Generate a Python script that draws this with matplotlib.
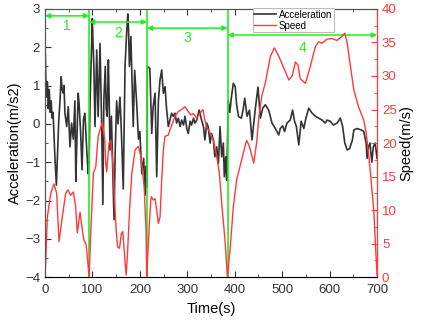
import matplotlib
matplotlib.use('Agg')
import matplotlib.pyplot as plt
from matplotlib.ticker import MultipleLocator

plt.rcParams['font.family'] = ['Liberation Sans', 'DejaVu Sans']

# speed curve (t in s, v in m/s)
speed_t = [0, 1.5, 5, 12, 19, 24.6, 29.5, 36.5, 43.6, 48.5, 54, 59.7, 64.6, 68, 73.8, 78.7, 82, 86, 88, 93,
           96, 102, 107, 112, 114, 121, 126, 128, 130, 135, 138.5, 143, 147, 150, 153, 157, 161, 164, 168, 171,
           173.5, 179, 183, 190, 197, 202, 206, 209, 213, 214.5,
           215.7, 220, 223, 224.5, 228, 232, 235.5, 239, 242.5, 246, 249.5, 253, 260, 263.5, 269, 274, 281, 288,
           295, 302, 307, 313, 320, 327, 333, 337, 341, 348, 355, 362, 367.5, 372.5, 379.5, 384.5,
           390, 397, 404, 411, 418, 425, 431, 440, 446, 451, 457, 464.5, 475, 483.5, 492.5, 501, 514, 521, 528,
           533.5, 538, 549, 559, 570, 577, 584, 594.5, 605, 615.5, 626, 632, 637, 644, 651, 661, 672, 677, 682,
           686, 693, 696.5, 700]
speed_v = [0, 2.5, 9, 12.5, 13.9, 12.5, 5.3, 9, 12.5, 13, 12.2, 12.7, 10.5, 6.6, 9.7, 7, 5.5, 5, 4, 0,
           6, 15.5, 16.5, 21, 21.5, 23.2, 20.4, 17, 15.7, 20, 20.4, 17, 11, 7, 4.5, 4.3, 6.5, 6.8, 3, 0.3,
           3, 11, 15.5, 19, 19.5, 18, 15.5, 13.5, 7, 0,
           2, 8, 11.5, 12, 11.5, 11.7, 10, 8, 9, 14.5, 19, 21, 21.2, 22, 23, 24, 24.7, 25,
           25.4, 24.7, 24.2, 24.4, 23.7, 24.5, 25, 23.4, 22.4, 21.5, 20.4, 18, 15.5, 11, 5.5, 0,
           4, 10.5, 14.5, 16.5, 18.5, 20.4, 19.5, 17, 20, 24, 27, 29, 32.9, 34.2, 33, 31.6, 29.4, 30, 32.1,
           31.6, 29.6, 28.9, 31.4, 34.4, 35.1, 34.9, 35.5, 35.6, 35.3, 35.9, 36.4, 34.9, 31.4, 27.9, 25.4, 23.4, 21.5, 18.5,
           15.5, 10, 5, 0.3]

# acceleration curve (m/s2)
acc_t = [0, 2, 3, 5, 7, 9, 11, 13, 15, 17, 19, 21, 24, 27, 29, 31.6, 34, 36, 38.6, 40, 42, 45.7, 49, 52.7,
         56, 59.7, 63, 65, 67, 70, 72, 75, 78, 81, 84, 86, 88, 91, 93,
         95, 97, 99.8, 101, 103, 105.4, 107, 109, 112, 114, 116, 118, 119.5, 122, 124, 127, 129, 131, 133.6,
         135, 137, 140, 142.7, 145.5, 148, 151, 154, 158, 161, 165, 168.7, 172, 174.5, 176, 178, 181, 183.5,
         186, 189, 193, 197, 200, 204, 208, 211, 213, 214.5,
         215.7, 221, 225, 228, 232, 235.5, 239, 242.5, 246, 249.5, 253, 256.5, 260, 263.5, 267, 270.5, 274,
         277.5, 281, 285, 288, 292, 295, 299, 302, 306, 309, 313, 316, 320, 325, 330, 334, 337, 341, 344, 348,
         351, 355, 358, 362, 365.5, 369, 372.5, 376, 378, 381, 383,
         386.5, 389.6, 393, 397, 401, 404, 408, 414, 418, 421, 426, 431, 436.4, 443, 449, 454, 459, 464.5,
         471.5, 478.6, 485.6, 492.6, 496, 501, 505, 510, 517, 522, 526, 530, 535, 540, 545.6, 550, 556, 563,
         570, 577, 584, 591, 594.5, 601, 608, 615.5, 622.6, 627.5, 632, 637, 642, 648, 651, 658, 667, 672,
         677, 679, 682, 685, 689, 692, 696, 700]
acc_a = [2.2, 1.0, 0.7, 1.1, 0.4, 0.9, 0.3, 0.6, 0.15, 0.3, -0.3, -0.9, -1.6, -0.6, 0.1, 0.6, 1.23, 0.9, 0.8,
         1.0, 0.28, -0.07, 0.45, -0.6, 0.02, -0.4, 0.6, -1.5, -0.5, 0.8, 0.5, -0.2, -1.2, 0.1, 0.28, -0.2,
         -0.68, -1.3, -1.0,
         0.6, 1.5, 2.75, 2.2, 1.5, -0.07, 0.8, 1.93, 0.19, 1.2, 2.1, 0.8, -0.07, -2.1, 0.6, 1.5, 0.4, 0.2, 1.67,
         0.8, -0.68, 0.2, -1.1, -2.5, -0.7, 0.6, 0, 0.7, -0.2, -1.7, 1.5, 2.37, 2.87, 2.5, 1.5, 2.28, 1.06,
         -0.07, 1.4, 0.6, -0.4, -0.2, -1.3, -0.9, -1.86, -1.1, -1.64,
         1.5, 1.45, -0.25, 0.45, 0.8, -1.38, 0.6, 1.15, 1.41, 0.8, 0.97, 0.36, -0.07, 0.1, 0.28, 0.2, 0.28,
         0.02, 0.15, -0.07, 0.1, -0.03, 0.2, -0.12, -0.25, 0.07, -0.03, 0.15, 0.02, 0.1, 0.36, 0.1, -0.07,
         -0.42, 0.02, -0.07, -0.5, -0.25, -0.42, -0.86, -0.6, -1.03, -0.07, -0.86, -0.5, -1.38, -0.86, -1.47,
         0.6, 0.3, 0.7, 1.06, 0.97, 0.5, 0.19, 0.15, 0.4, 0.67, 0.2, 0.36, -0.42, 0.36, 0.96, 0.15, 0.41, 0.5,
         0.36, 0.02, -0.12, -0.29, -0.12, -0.05, -0.2, 0.02, 0.1, 0.36, 0.07, -0.07, -0.55, 0.07, -0.12, 0.15,
         0.41, 0.28, 0.2, 0.15, 0.1, 0.02, 0.1, 0.07, -0.03, 0.02, 0.15, -0.07, -0.5, -0.68, -0.65, -0.42,
         -0.16, -0.12, -0.16, -0.2, -0.5, -0.9, -0.6, -0.5, -1.0, -0.6, -0.5, -0.9]

# stage boundaries and labels
bounds = [0, 93, 215, 385, 700]
stage_labels = ['1', '2', '3', '4']
arrow_y = [2.82, 2.66, 2.5, 2.32]
label_y = [2.55, 2.36, 2.23, 1.98]

green = '#22ee22'
gray = '#333333'
red = '#ff3a3a'

fig = plt.figure(figsize=(4.23, 3.2), dpi=100)
ax = fig.add_axes([0.1064, 0.134, 0.785, 0.838])
ax2 = ax.twinx()

l1, = ax.plot(acc_t, acc_a, color=gray, lw=1.2, label='Acceleration')
l2, = ax2.plot(speed_t, speed_v, color=red, lw=1.0, label='Speed')

ax.set_xlim(0, 700)
ax.set_ylim(-4, 3)
ax2.set_ylim(0, 40)

for b in bounds[1:-1]:
    ax.axvline(b, color=green, lw=1.2, zorder=5)

for i in range(4):
    ax.annotate('', xy=(bounds[i + 1], arrow_y[i]), xytext=(bounds[i], arrow_y[i]),
                arrowprops=dict(arrowstyle='<|-|>', color=green, lw=1.1,
                                shrinkA=0, shrinkB=0, mutation_scale=7), zorder=6)
    ax.text((bounds[i] + bounds[i + 1]) / 2, label_y[i], stage_labels[i], color=green,
            fontsize=10, ha='center', va='center')

ax.xaxis.set_major_locator(MultipleLocator(100))
ax.xaxis.set_minor_locator(MultipleLocator(50))
ax.yaxis.set_major_locator(MultipleLocator(1))
ax.yaxis.set_minor_locator(MultipleLocator(0.5))
ax2.yaxis.set_major_locator(MultipleLocator(5))
ax2.yaxis.set_minor_locator(MultipleLocator(2.5))

ax.tick_params(axis='both', which='both', direction='in', top=True, colors=gray, labelsize=9.5)
ax.tick_params(axis='x', pad=5)
ax.tick_params(which='major', length=4)
ax.tick_params(which='minor', length=2)
ax2.tick_params(axis='y', which='both', direction='in', colors=red, labelsize=9.5)
ax2.tick_params(which='major', length=4)
ax2.tick_params(which='minor', length=2)

for s in ['left', 'bottom', 'top']:
    ax.spines[s].set_color('#555555')
ax2.spines['right'].set_color(red)
ax2.spines['left'].set_color('#555555')
ax2.spines['top'].set_color('#555555')

ax.set_xlabel('Time(s)', fontsize=10.5, labelpad=4)
ax.set_ylabel('Acceleration(m/s2)', fontsize=10.5, labelpad=2)
ax2.set_ylabel('Speed(m/s)', fontsize=10.5, labelpad=2)

leg = ax2.legend(handles=[l1, l2], loc='upper left', bbox_to_anchor=(0.625, 1.005), fontsize=7,
                 frameon=True, fancybox=False, edgecolor='#bbbbbb', framealpha=1,
                 handlelength=2.2, borderpad=0.2, labelspacing=0.1, handletextpad=0.3,
                 borderaxespad=0)
leg.get_frame().set_linewidth(0.8)

plt.savefig('out.png', dpi=100)
